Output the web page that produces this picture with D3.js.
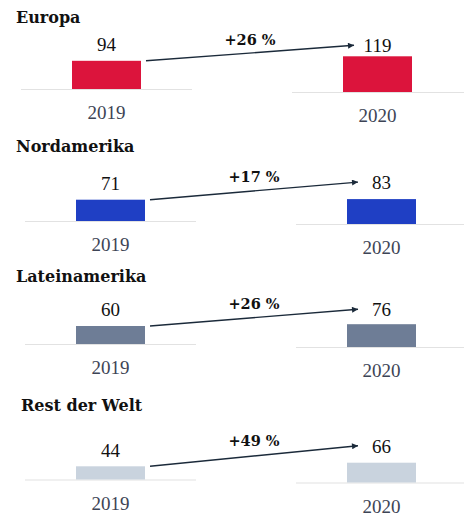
<!DOCTYPE html>
<html>
<head>
<meta charset="utf-8">
<script src="https://cdn.jsdelivr.net/npm/d3@7"></script>
<style>
  html, body { margin: 0; padding: 0; background: #fff; }
  svg { display: block; }
</style>
</head>
<body>
<svg id="chart" width="464" height="516"></svg>
<script>
// Revenue by region, 2019 vs 2020
const regions = ["Europa", "Nordamerika", "Lateinamerika", "Rest der Welt"];
const years = ["2019", "2020"];
const values2019 = [94, 71, 60, 44];
const values2020 = [119, 83, 76, 66];
const growthLabels = ["+26 %", "+17 %", "+26 %", "+49 %"];
const colors = ["#dc143c", "#1f3fc4", "#6e7d96", "#c9d3de"];

// Panel layout
const W = 464;
const titleX = [16, 16, 16, 21];
const titleY = [23, 152, 282, 411];
const baseY = [89, 221, 344, 479.5];       // baseline of the 2019 bar
const panelShift = [0, 4, 4, 4];           // horizontal nudge of each panel
const labelGap = [[10, 4], [10, 10], [10, 8], [9, 10]]; // value label gap above bar
const barW = 69;

const svg = d3.select("#chart");

// Shared height scale for all bars
const h = d3.scaleLinear().domain([0, 120]).range([0, 36]);
const xYear = d3.scaleOrdinal().domain(years).range([72, 343]);
const yDrop = d3.scaleOrdinal().domain(years).range([0, 3]);

const defs = svg.append("defs");
defs.append("marker")
  .attr("id", "arrowhead")
  .attr("viewBox", "0 0 10 10")
  .attr("refX", 10).attr("refY", 5)
  .attr("markerWidth", 7).attr("markerHeight", 6)
  .attr("markerUnits", "userSpaceOnUse")
  .attr("orient", "auto")
  .append("path")
  .attr("d", "M0,0 L10,5 L0,10 Z")
  .attr("fill", "#1b2a3a");

regions.forEach((region, i) => {
  const g = svg.append("g").attr("class", "panel");
  const vals = [values2019[i], values2020[i]];

  g.append("text")
    .attr("x", titleX[i]).attr("y", titleY[i])
    .attr("font-family", "DejaVu Serif")
    .attr("font-weight", "bold")
    .attr("font-size", 16)
    .attr("fill", "#111")
    .text(region);

  const geo = years.map((yr, j) => {
    const x0 = xYear(yr) + panelShift[i];
    const base = baseY[i] + yDrop(yr);
    const top = base - h(vals[j]);
    return { yr, x0, base, top, v: vals[j], labelY: top - labelGap[i][j] };
  });

  // baselines
  geo.forEach((d, j) => {
    g.append("line")
      .attr("x1", d.x0 - 51)
      .attr("x2", j === 0 ? d.x0 + 120 : W)
      .attr("y1", d.base + 0.5).attr("y2", d.base + 0.5)
      .attr("stroke", "#e2e2e2")
      .attr("stroke-width", 1.2);
  });

  // bars
  g.selectAll("rect.bar").data(geo).enter().append("rect")
    .attr("class", "bar")
    .attr("x", d => d.x0)
    .attr("y", d => d.top)
    .attr("width", barW)
    .attr("height", d => h(d.v))
    .attr("fill", colors[i]);

  // value labels
  g.selectAll("text.val").data(geo).enter().append("text")
    .attr("class", "val")
    .attr("x", d => d.x0 + barW / 2)
    .attr("y", d => d.labelY)
    .attr("text-anchor", "middle")
    .attr("font-family", "Liberation Serif")
    .attr("font-size", 19)
    .attr("fill", "#111")
    .text(d => d.v);

  // year labels
  g.selectAll("text.year").data(geo).enter().append("text")
    .attr("class", "year")
    .attr("x", d => d.x0 + barW / 2)
    .attr("y", d => d.base + 30)
    .attr("text-anchor", "middle")
    .attr("font-family", "Liberation Serif")
    .attr("font-size", 19)
    .attr("fill", "#3d4455")
    .text(d => d.yr);

  // growth arrow
  const x1 = geo[0].x0 + barW + 5, y1 = geo[0].top;
  const x2 = geo[1].x0 + 11, y2 = geo[1].labelY - 7;
  g.append("line")
    .attr("x1", x1).attr("y1", y1)
    .attr("x2", x2).attr("y2", y2)
    .attr("stroke", "#1b2a3a")
    .attr("stroke-width", 1.4)
    .attr("marker-end", "url(#arrowhead)");

  g.append("text")
    .attr("x", (x1 + x2) / 2)
    .attr("y", y2)
    .attr("text-anchor", "middle")
    .attr("font-family", "DejaVu Serif")
    .attr("font-weight", "bold")
    .attr("font-size", 14.5)
    .attr("fill", "#111")
    .text(growthLabels[i]);
});
</script>
</body>
</html>
